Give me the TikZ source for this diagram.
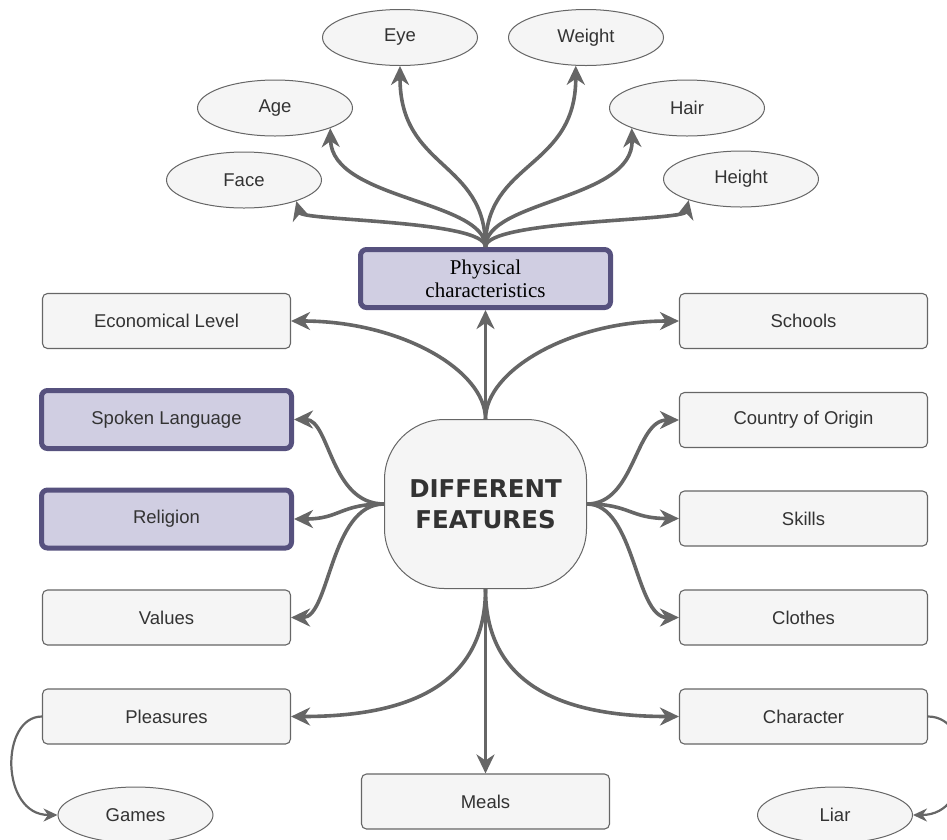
\documentclass[tikz,border=0pt]{standalone}
\usepackage{fontspec}
\setmainfont{Liberation Sans}
\newfontfamily\physfont{Liberation Serif}
\newfontfamily\hubfont{DejaVu Sans}
\usetikzlibrary{shapes.geometric,arrows.meta}
\definecolor{boxfill}{HTML}{F5F5F5}
\definecolor{boxline}{HTML}{666666}
\definecolor{lavfill}{HTML}{D0CEE2}
\definecolor{lavline}{HTML}{56517E}
\definecolor{txtgray}{HTML}{333333}
\tikzset{
  feat/.style={draw=boxline, fill=boxfill, rounded corners=5pt, line width=1.1pt,
    minimum width=248pt, minimum height=55pt, inner sep=0pt, text=txtgray,
    font=\fontsize{18.5}{21}\selectfont},
  keyfeat/.style={feat, draw=lavline, fill=lavfill, line width=5pt,
    minimum width=250pt, minimum height=58pt, rounded corners=6pt},
  trait/.style={ellipse, draw=boxline, fill=boxfill, line width=1pt,
    minimum width=155pt, minimum height=56pt, inner sep=0pt, text=txtgray,
    font=\fontsize{18.5}{21}\selectfont},
  link/.style={draw=boxline, line width=3.6pt, -{Stealth[length=19pt,width=18pt,inset=6pt]}},
  sublink/.style={draw=boxline, line width=2.2pt, -{Stealth[length=14pt,width=13pt,inset=4.5pt]}}
}
\begin{document}
\begin{tikzpicture}[x=1pt, y=-1pt]
	\useasboundingbox (0,0) rectangle (947,839);
	% traits on top
	\node[trait] (eye) at (400,37.5) {Eye};
	\node[trait] (weight) at (586,37.5) {Weight};
	\node[trait] (age) at (275,108) {Age};
	\node[trait] (hair) at (687,108) {Hair};
	\node[trait] (face) at (244,180) {Face};
	\node[trait] (height) at (741,179) {Height};
	\node[keyfeat, align=center, text=black, font=\physfont\fontsize{21}{23}\selectfont] (phys) at (485.5,278.5) {Physical\\characteristics};
	% hub
	\node[draw=boxline, fill=boxfill, rounded corners=60pt, line width=1pt, minimum width=202pt, minimum height=169pt,
		align=center, text=txtgray, font=\hubfont\bfseries\fontsize{24.5}{31}\selectfont] (hub) at (485.5,504) {DIFFERENT\\FEATURES};
	% left column
	\node[feat] (econ) at (166.5,321) {Economical Level};
	\node[keyfeat] (spoken) at (166.5,419.5) {Spoken Language};
	\node[keyfeat] (religion) at (166.5,519) {Religion};
	\node[feat] (values) at (166.5,617.5) {Values};
	\node[feat] (pleasures) at (166.5,716.5) {Pleasures};
	% right column
	\node[feat] (schools) at (803.5,321) {Schools};
	\node[feat] (country) at (803.5,420) {Country of Origin};
	\node[feat] (skills) at (803.5,518.5) {Skills};
	\node[feat] (clothes) at (803.5,617.5) {Clothes};
	\node[feat] (character) at (803.5,716.5) {Character};
	% bottom
	\node[feat] (meals) at (485.5,801.5) {Meals};
	\node[trait] (games) at (135.5,815) {Games};
	\node[trait] (liar) at (835,815) {Liar};

	\draw[link] (phys.north) .. controls (485.5,220) and (302,221) .. (face.-22);
	\draw[link] (phys.north) .. controls (485.5,200) and (332,200) .. (age.-20);
	\draw[link] (phys.north) .. controls (485.5,160) and (400,170) .. (eye.south);
	\draw[link] (phys.north) .. controls (485.5,160) and (576,170) .. (weight.-110);
	\draw[link] (phys.north) .. controls (485.5,200) and (634,200) .. (hair.-160);
	\draw[link] (phys.north) .. controls (485.5,220) and (684,221) .. (height.-158);

	\draw[link] (hub.north) -- (phys.south);
	\draw[link] (hub.north) .. controls (485.5,370) and (400,321) .. (econ.east);
	\draw[link] (hub.north) .. controls (485.5,370) and (571,321) .. (schools.west);
	\draw[link] (hub.west) .. controls (330,504) and (330,419.5) .. (spoken.east);
	\draw[link] (hub.west) .. controls (340,504) and (340,519) .. (religion.east);
	\draw[link] (hub.west) .. controls (330,504) and (330,617.5) .. (values.east);
	\draw[link] (hub.east) .. controls (635,504) and (635,420) .. (country.west);
	\draw[link] (hub.east) .. controls (630,504) and (630,518.5) .. (skills.west);
	\draw[link] (hub.east) .. controls (635,504) and (635,617.5) .. (clothes.west);
	\draw[link] (hub.south) -- (meals.north);
	\draw[link] (hub.south) .. controls (485.5,690) and (400,716.5) .. (pleasures.east);
	\draw[link] (hub.south) .. controls (485.5,690) and (571,716.5) .. (character.west);

	\draw[sublink] (pleasures.west) .. controls (0,716.5) and (0,815) .. (games.west);
	\draw[sublink] (character.east) .. controls (975,716.5) and (975,815) .. (liar.east);
\end{tikzpicture}
\end{document}
